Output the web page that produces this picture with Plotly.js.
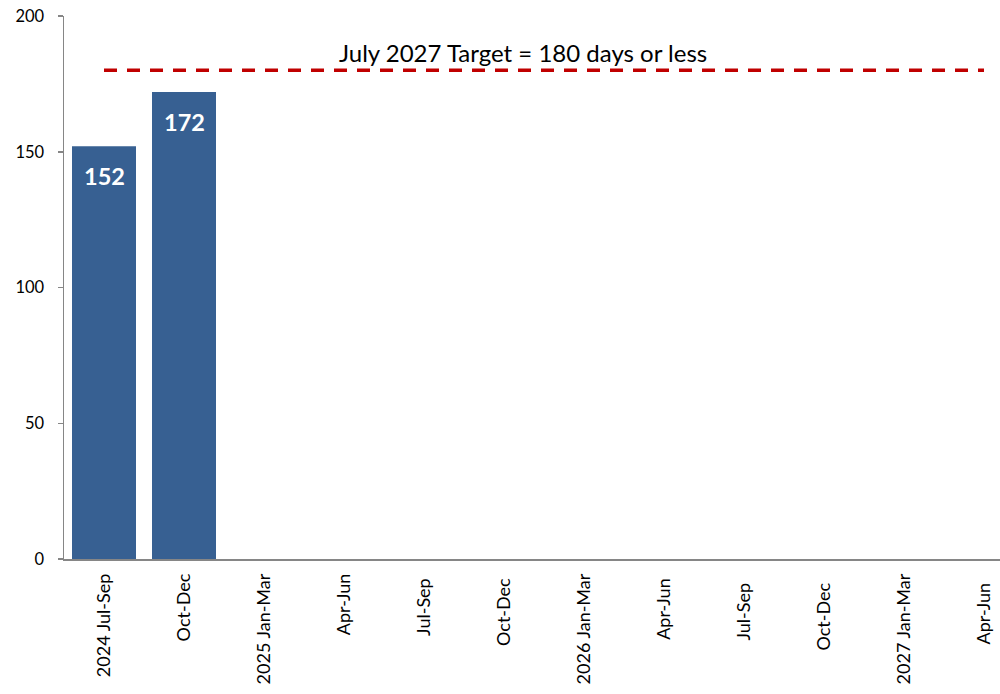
<!DOCTYPE html>
<html>
<head>
<meta charset="utf-8">
<script src="https://cdn.plot.ly/plotly-3.0.1.min.js"></script>
<style>html,body{margin:0;padding:0;background:#fff;overflow:hidden}#chart{width:1000px;height:694px}</style>
</head>
<body>
<div id="chart"></div>
<script>
const categories = ["2024 Jul-Sep","Oct-Dec","2025 Jan-Mar","Apr-Jun","Jul-Sep ","Oct-Dec ","2026 Jan-Mar","Apr-Jun ","Jul-Sep  ","Oct-Dec  ","2027 Jan-Mar","Apr-Jun  "];
const values = [152, 172, null, null, null, null, null, null, null, null, null, null];
const targetValue = 180;
const targetLabel = "July 2027 Target = 180 days or less";
const yTicks = [0, 50, 100, 150, 200];

const FONT = "Lato, 'Open Sans', sans-serif";

const bars = {
  type: 'bar',
  x: categories,
  y: values,
  marker: {color: '#376092'},
  hoverinfo: 'x+y',
  showlegend: false
};
const target = {
  type: 'scatter',
  mode: 'lines',
  x: categories,
  y: categories.map(() => targetValue),
  line: {color: '#C00000', width: 3.5, dash: '13px,10px'},
  showlegend: false,
  hoverinfo: 'y'
};

const annotations = [];
values.forEach((v, i) => {
  if (v !== null) {
    annotations.push({
      x: categories[i], y: v, xref: 'x', yref: 'y',
      text: '<b>' + v + '</b>', showarrow: false,
      xanchor: 'center', yanchor: 'middle',
      yshift: -30, font: {family: FONT, size: 23.5, color: '#ffffff'}
    });
  }
});
annotations.push({
  xref: 'paper', yref: 'paper', x: (522.5 - 64) / 936, y: (559.3 - 52) / 543.8,
  xanchor: 'center', yanchor: 'middle',
  text: targetLabel, showarrow: false,
  font: {family: FONT, size: 24, color: '#000000'}
});

const layout = {
  width: 1000, height: 694,
  margin: {l: 64, r: 0, t: 15.5, b: 134.7, pad: 0},
  paper_bgcolor: '#ffffff', plot_bgcolor: '#ffffff',
  bargap: 0.2,
  font: {family: FONT, size: 16, color: '#000000'},
  xaxis: {
    type: 'category', range: [-0.5, 11.2],
    showline: true, linecolor: '#868686', linewidth: 1.5,
    ticks: '', showgrid: false, zeroline: false,
    tickangle: -90, ticklabelstandoff: 6,
    tickfont: {family: FONT, size: 18, color: '#000000'}
  },
  yaxis: {
    range: [0, 200], tickvals: yTicks, ticktext: yTicks.map(String),
    showline: true, linecolor: '#868686', linewidth: 1.5,
    ticks: 'outside', ticklen: 5, tickcolor: '#868686', tickwidth: 1.5,
    showgrid: false, zeroline: false, ticklabelstandoff: 10,
    tickfont: {family: FONT, size: 16.5, color: '#000000'}
  },
  annotations: annotations
};

Plotly.newPlot('chart', [bars, target], layout, {displayModeBar: false, staticPlot: true});
</script>
</body>
</html>
